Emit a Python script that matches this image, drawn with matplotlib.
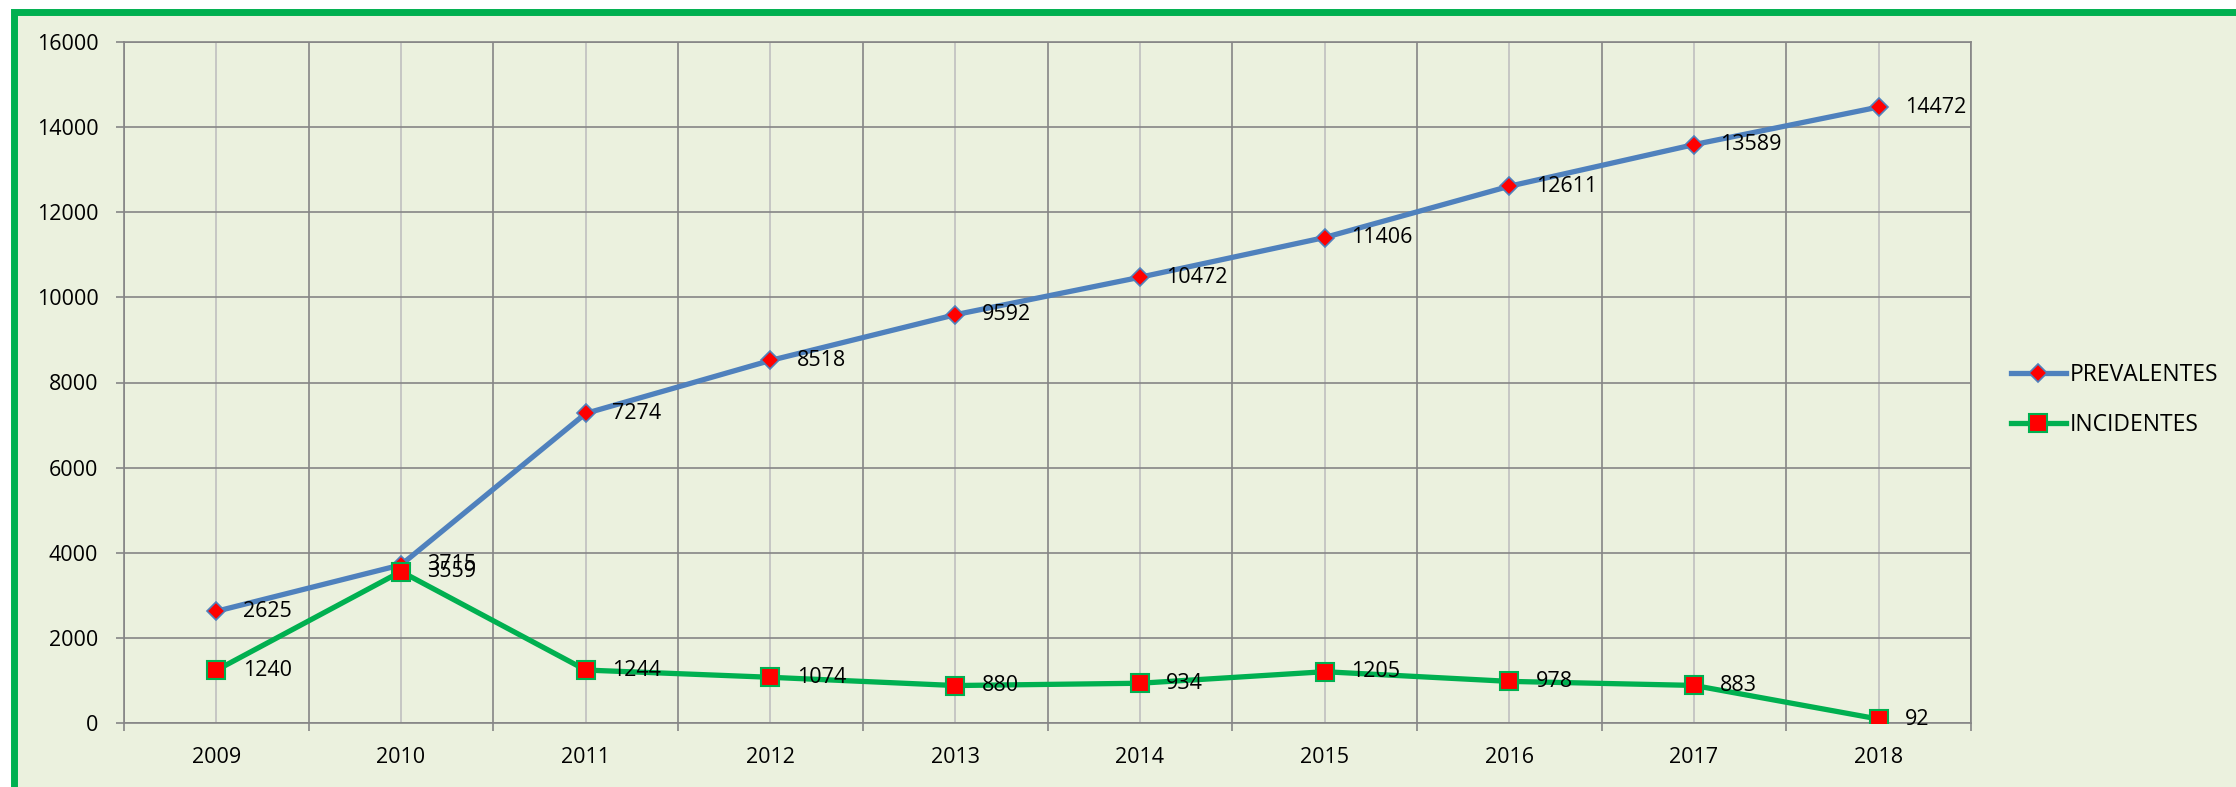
import matplotlib.pyplot as plt
from matplotlib.patches import Rectangle
from matplotlib.ticker import FixedLocator, MultipleLocator

plt.rcParams['font.family'] = ['Open Sans', 'DejaVu Sans']

years = ['2009', '2010', '2011', '2012', '2013', '2014', '2015', '2016', '2017', '2018']
prevalentes = [2625, 3715, 7274, 8518, 9592, 10472, 11406, 12611, 13589, 14472]
incidentes = [1240, 3559, 1244, 1074, 880, 934, 1205, 978, 883, 92]

bg = '#EBF1DE'
blue = '#4F81BD'
green = '#00B050'
dark_grid = '#868686'
light_grid = '#BFBFBF'
fs = 15.5

fig = plt.figure(figsize=(22.36, 7.87), dpi=100)
fig.patch.set_facecolor('white')

# green frame round the chart (cut off at right and bottom like the source)
W, H = 2236, 787
frame = Rectangle((13.5 / W, -3 / H), (W + 20) / W, (H - 12 + 3) / H,
                  transform=fig.transFigure, facecolor=bg, edgecolor=green,
                  linewidth=5.0, zorder=-10)
fig.patches.append(frame)

ax = fig.add_axes([124 / W, 64 / H, (1971 - 124) / W, (723 - 42) / H])
ax.set_facecolor(bg)

x = list(range(len(years)))
ax.plot(x, prevalentes, color=blue, linewidth=3.8, marker='D', markersize=9,
        markerfacecolor='red', markeredgecolor=blue, markeredgewidth=1.2,
        label='PREVALENTES', zorder=4)
ax.plot(x, incidentes, color=green, linewidth=3.8, marker='s', markersize=13,
        markerfacecolor='red', markeredgecolor=green, markeredgewidth=1.5,
        label='INCIDENTES', zorder=5)

# data labels to the right of each point
for xi, v in zip(x, prevalentes):
    ax.annotate(str(v), (xi, v), xytext=(19, 0), textcoords='offset points',
                ha='left', va='center', fontsize=fs, color='black', zorder=6)
for xi, v in zip(x, incidentes):
    ax.annotate(str(v), (xi, v), xytext=(19, 0), textcoords='offset points',
                ha='left', va='center', fontsize=fs, color='black', zorder=6)

ax.set_xlim(-0.5, len(years) - 0.5)
ax.set_ylim(0, 16000)

# category boundaries carry the ticks, labels sit in the middle
ax.xaxis.set_major_locator(FixedLocator([i - 0.5 for i in range(len(years) + 1)]))
ax.xaxis.set_minor_locator(FixedLocator(x))
ax.set_xticklabels([], minor=False)
ax.set_xticklabels(years, minor=True)
ax.tick_params(axis='x', which='major', length=5.5, width=1.2, color=dark_grid,
               direction='out')
ax.tick_params(axis='x', which='minor', length=0, pad=17, labelsize=fs)

ax.yaxis.set_major_locator(MultipleLocator(2000))
ax.tick_params(axis='y', which='major', length=5.5, width=1.2, color=dark_grid,
               direction='out', pad=13, labelsize=fs)

ax.grid(True, which='major', color=dark_grid, linewidth=1.2, zorder=1)
ax.grid(True, which='minor', axis='x', color=light_grid, linewidth=1.2, zorder=1)
ax.set_axisbelow(True)

for s in ax.spines.values():
    s.set_color(dark_grid)
    s.set_linewidth(1.2)

fig.legend(loc='center left', bbox_to_anchor=(1990 / W, 387 / H), frameon=False,
           fontsize=16.5, handlelength=2.4, handletextpad=0.2, labelspacing=1.1)

fig.savefig('out.png', dpi=100, facecolor='white')
